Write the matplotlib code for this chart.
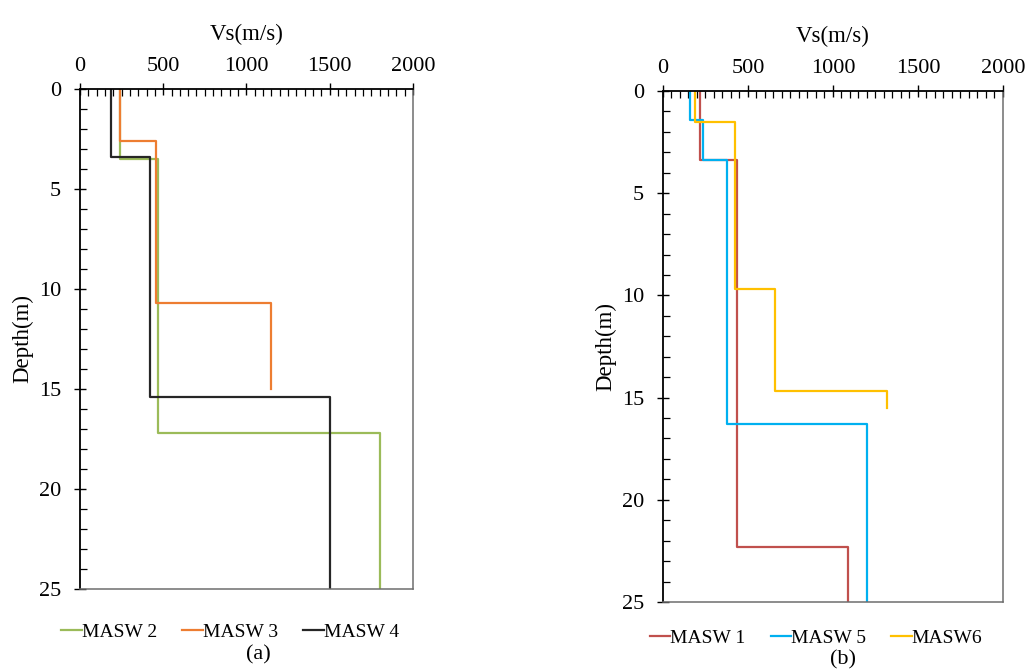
import matplotlib
matplotlib.use("Agg")
import matplotlib.pyplot as plt
import numpy as np
from matplotlib.ticker import MultipleLocator

plt.rcParams['font.family'] = ['Liberation Serif', 'DejaVu Serif']

# Panel (a)
a_names = ["MASW 2", "MASW 3", "MASW 4"]
a_vs = [[240, 470, 1800], [240, 455, 1150], [185, 420, 1500]]
a_depths = [[0, 3.5, 17.2, 25], [0, 2.6, 10.7, 15], [0, 3.4, 15.4, 25]]
a_colors = ["#9BBB59", "#ED7D31", "#262626"]

# Panel (b)
b_names = ["MASW 1", "MASW 5", "MASW6"]
b_vs = [[215, 435, 1090], [157, 233, 378, 1200], [186, 425, 659, 1319]]
b_depths = [[0, 3.4, 22.3, 25], [0, 1.4, 3.4, 16.3, 25], [0, 1.5, 9.7, 14.7, 15.5]]
b_colors = ["#C0504D", "#00B0F0", "#FFC000"]

xticks = [0, 500, 1000, 1500, 2000]
yticks = [0, 5, 10, 15, 20, 25]


def profile(vs, depths):
    x = np.repeat(vs, 2)
    y = np.repeat(depths, 2)[1:-1]
    return x, y


fig = plt.figure(figsize=(10.29, 6.71), dpi=100)
axA = fig.add_axes([0.0777, 0.1222, 0.3236, 0.7452])
axB = fig.add_axes([0.6443, 0.1028, 0.3304, 0.7616])


def setup(ax, names, vss, depthss, colors, lw):
    for n, v, d, c in zip(names, vss, depthss, colors):
        x, y = profile(v, d)
        ax.plot(x, y, color=c, lw=lw, label=n)
    ax.set_xlim(0, 2000)
    ax.set_ylim(25, 0)
    ax.set_xticks(xticks)
    ax.set_yticks(yticks)
    ax.xaxis.set_minor_locator(MultipleLocator(50))
    ax.yaxis.set_minor_locator(MultipleLocator(1))
    ax.xaxis.tick_top()
    ax.xaxis.set_label_position('top')
    ax.tick_params(which='major', direction='inout', length=9, width=1,
                   labelsize=16, color='black')
    ax.tick_params(axis='x', which='major', pad=5)
    ax.tick_params(axis='y', which='major', pad=9)
    ax.tick_params(which='minor', direction='in', length=5, width=0.9, color='black')
    ax.tick_params(axis='x', which='minor', top=True, bottom=False)
    ax.set_xlabel('Vs(m/s)', fontsize=16.5, labelpad=12)
    ax.set_ylabel('Depth(m)', fontsize=16.5, labelpad=4)
    for s in ['top', 'left']:
        ax.spines[s].set_color('black')
        ax.spines[s].set_linewidth(1.3)
    for s in ['right', 'bottom']:
        ax.spines[s].set_color('#6e6e6e')
        ax.spines[s].set_linewidth(1.1)


setup(axA, a_names, a_vs, a_depths, a_colors, 1.6)
setup(axB, b_names, b_vs, b_depths, b_colors, 1.6)

legkw = dict(ncol=3, frameon=False, fontsize=14, handlelength=1.05,
             handletextpad=0.0, columnspacing=1.3, borderaxespad=0)
axA.legend(loc='center', bbox_to_anchor=(230 / 1029, 1 - 632 / 671),
           bbox_transform=fig.transFigure, **legkw)
axB.legend(loc='center', bbox_to_anchor=(816 / 1029, 1 - 638 / 671),
           bbox_transform=fig.transFigure, **legkw)

fig.text(258 / 1029, 1 - 655 / 671, '(a)', ha='center', va='center', fontsize=16)
fig.text(843 / 1029, 1 - 660 / 671, '(b)', ha='center', va='center', fontsize=16)

fig.savefig('out.png', dpi=100)
